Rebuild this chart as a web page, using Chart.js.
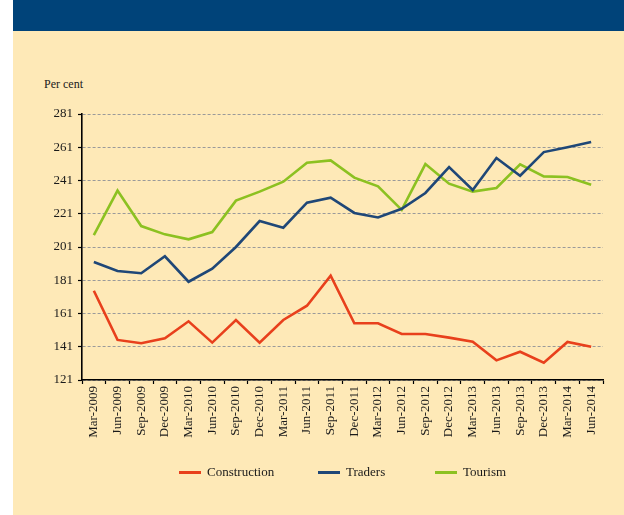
<!DOCTYPE html>
<html>
<head>
<meta charset="utf-8">
<script src="https://cdn.jsdelivr.net/npm/chart.js@4/dist/chart.umd.min.js"></script>
<style>
  html, body { margin:0; padding:0; background:#ffffff; }
  #page { position:relative; width:624px; height:515px; overflow:hidden; background:#ffffff; }
  #panel { position:absolute; left:13px; top:0; width:611px; height:515px; background:#FEE9B7; }
  #banner { position:absolute; left:13px; top:0; width:611px; height:31px; background:#004379; }
  #unit { position:absolute; left:44px; top:77px; font:12px "Liberation Serif", "Times New Roman", serif; color:#1a1a1a; white-space:nowrap; }
  #wrap { position:absolute; left:0; top:0; width:624px; height:515px; }
  .lg { position:absolute; top:463px; height:18px; font:13px "Liberation Serif", "Times New Roman", serif; color:#1a1a1a; white-space:nowrap; }
  .lg .sw { position:absolute; left:0; top:8px; width:22px; height:3px; }
  .lg .tx { position:absolute; top:1px; }
</style>
</head>
<body>
<div id="page">
  <div id="panel"></div>
  <div id="banner"></div>
  <div id="unit">Per cent</div>
  <div id="wrap"><canvas id="c" width="624" height="515"></canvas></div>
  <div id="legend"></div>
</div>
<script>
const categories = ["Mar-2009","Jun-2009","Sep-2009","Dec-2009","Mar-2010","Jun-2010","Sep-2010","Dec-2010","Mar-2011","Jun-2011","Sep-2011","Dec-2011","Mar-2012","Jun-2012","Sep-2012","Dec-2012","Mar-2013","Jun-2013","Sep-2013","Dec-2013","Mar-2014","Jun-2014"];
const construction = [174.7,145.1,143.1,146.1,156.3,143.5,157.1,143.5,157.1,165.7,183.8,155.1,155.1,148.7,148.7,146.5,144.0,132.8,138.0,131.4,143.9,141.0];
const traders = [192.0,186.6,185.2,195.4,180.1,188.0,201.0,216.6,212.6,227.7,230.7,221.5,218.8,224.0,233.5,249.1,235.3,254.5,243.9,258.1,261.0,264.2];
const tourism = [208.2,234.9,213.6,208.6,205.6,210.0,228.9,234.3,240.3,251.7,253.1,242.7,237.5,223.3,250.9,239.1,234.3,236.5,250.7,243.5,243.1,238.5];
const yTicks = [121,141,161,181,201,221,241,261,281];
const seriesNames = ["Construction","Traders","Tourism"];
const seriesColors = ["#E8401C","#1F4777","#8CC121"];

const FONT = { family: '"Liberation Serif", "Times New Roman", serif', size: 13 };

const datasets = [construction, traders, tourism].map((d, i) => ({
  label: seriesNames[i],
  data: d,
  borderColor: seriesColors[i],
  backgroundColor: seriesColors[i],
  borderWidth: 2.6,
  pointRadius: 0,
  tension: 0,
  fill: false
}));

new Chart(document.getElementById('c'), {
  type: 'line',
  data: { labels: categories, datasets },
  options: {
    responsive: false,
    animation: false,
    devicePixelRatio: 1,
    layout: { padding: { left: 0, top: 114, right: 21, bottom: 65 } },
    plugins: { legend: { display: false }, tooltip: { enabled: false }, title: { display: false } },
    scales: {
      x: {
        type: 'category',
        offset: true,
        afterFit: s => { s.height = 70; },
        grid: { display: true, offset: true, drawOnChartArea: false, drawTicks: true, tickLength: 4, color: '#000', tickColor: '#000', tickWidth: 1.2 },
        border: { display: true, color: '#000', width: 1.6 },
        ticks: { autoSkip: false, minRotation: 90, maxRotation: 90, padding: 2, color: '#1a1a1a', font: FONT }
      },
      y: {
        min: 121, max: 281,
        afterFit: s => { s.width = 82; },
        afterBuildTicks: s => { s.ticks = yTicks.map(v => ({ value: v })); },
        grid: { color: '#9a9a9a', lineWidth: 1, drawTicks: true, tickLength: 4, tickColor: '#000', tickWidth: 1.2, tickBorderDash: [], borderDash: [3, 2] },
        border: { display: true, color: '#000', width: 1.6, dash: [3, 2] },
        ticks: { padding: 5, color: '#1a1a1a', font: FONT, stepSize: 20 }
      }
    }
  }
});

// HTML legend built from the series names/colours
const legendPos = [179, 318, 435];
const lg = document.getElementById('legend');
seriesNames.forEach((n, i) => {
  const d = document.createElement('div');
  d.className = 'lg';
  d.style.left = legendPos[i] + 'px';
  d.innerHTML = '<div class="sw" style="background:' + seriesColors[i] + '"></div><div class="tx" style="left:28px">' + n + '</div>';
  lg.appendChild(d);
});
</script>
</body>
</html>
